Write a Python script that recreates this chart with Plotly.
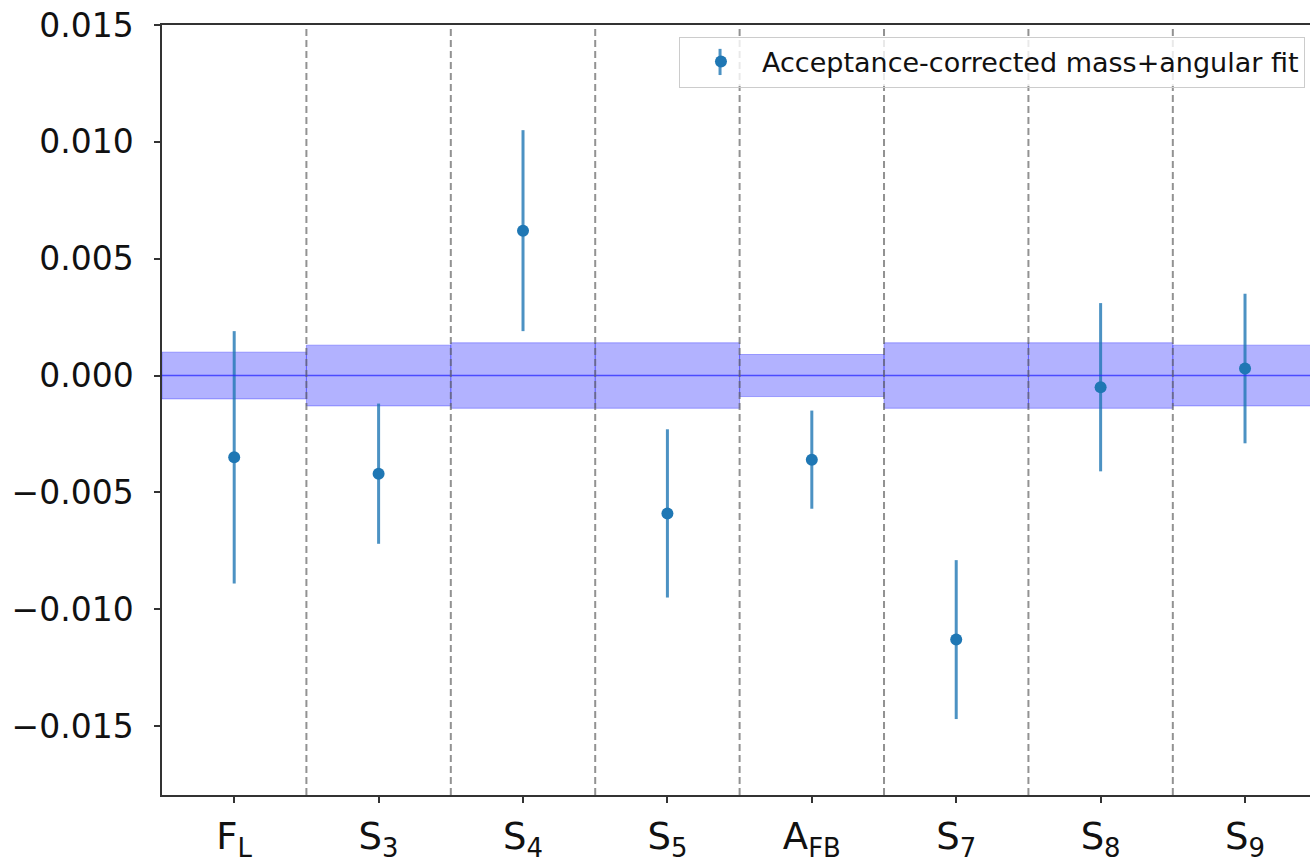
import plotly.graph_objects as go

# Observables and fitted values
observables = ["F<sub>L</sub>", "S<sub>3</sub>", "S<sub>4</sub>", "S<sub>5</sub>",
               "A<sub>FB</sub>", "S<sub>7</sub>", "S<sub>8</sub>", "S<sub>9</sub>"]
fit_values = [-0.0035, -0.0042, 0.0062, -0.0059, -0.0036, -0.0113, -0.0005, 0.0003]
fit_errors = [0.0054, 0.0030, 0.0043, 0.0036, 0.0021, 0.0034, 0.0036, 0.0032]
# Half-widths of the expected band around zero, per observable
band_halfwidths = [0.0010, 0.0013, 0.0014, 0.0014, 0.0009, 0.0014, 0.0014, 0.0013]

FONT = "DejaVu Sans"
TAB_BLUE = "#1f77b4"
ERR_BLUE = "rgba(31,119,180,0.8)"

fig = go.Figure()

positions = list(range(len(observables)))

# Shaded band for each observable, spanning its whole column
for i, hw in zip(positions, band_halfwidths):
    fig.add_trace(go.Scatter(
        x=[i - 0.5, i + 0.5, i + 0.5, i - 0.5, i - 0.5],
        y=[-hw, -hw, hw, hw, -hw],
        mode="lines",
        fill="toself",
        fillcolor="rgba(0,0,255,0.3)",
        line=dict(color="rgba(0,0,255,0.3)", width=1),
        hoverinfo="skip",
        showlegend=False,
    ))

# Zero reference line
fig.add_shape(type="line", xref="x", yref="y", x0=-0.5, x1=len(observables) - 0.5,
              y0=0, y1=0, line=dict(color="rgba(40,40,255,0.75)", width=1.5), layer="above")

# Column separators
for i in positions[:-1]:
    fig.add_shape(type="line", xref="x", yref="paper", x0=i + 0.5, x1=i + 0.5,
                  y0=0, y1=1, line=dict(color="rgba(100,100,100,0.7)", width=2, dash="7px,4px"),
                  layer="above")

# Fit results with uncertainties
fig.add_trace(go.Scatter(
    x=positions,
    y=fit_values,
    mode="markers",
    marker=dict(color=TAB_BLUE, size=12),
    error_y=dict(type="data", array=fit_errors, visible=True, thickness=3, width=0,
                 color=ERR_BLUE),
    name="Acceptance-corrected mass+angular fit",
    showlegend=True,
))

# Semi-opaque legend backdrop, then the error-bar stroke through the legend marker
fig.add_shape(type="rect", xref="paper", yref="paper", x0=0.4512, x1=0.9948,
              y0=0.9208, y1=0.9844, fillcolor="rgba(255,255,255,0.8)",
              line=dict(width=0), layer="above")
fig.add_shape(type="line", xref="paper", yref="paper", x0=0.4861, x1=0.4861,
              y0=0.935, y1=0.969, line=dict(color=ERR_BLUE, width=3), layer="above")

fig.update_layout(
    width=1310,
    height=863,
    margin=dict(l=162, r=0, t=25, b=68),
    paper_bgcolor="white",
    plot_bgcolor="white",
    font=dict(family=FONT, color="#111111", size=31),
    legend=dict(
        x=0.9956, y=0.985, xanchor="right", yanchor="top",
        bgcolor="rgba(255,255,255,0)", bordercolor="#cccccc", borderwidth=1,
        font=dict(family=FONT, size=27, color="#111111"),
        itemwidth=72,
    ),
    showlegend=True,
)

fig.update_xaxes(
    range=[-0.5, 7.45],
    tickmode="array",
    tickvals=positions,
    ticktext=observables,
    showgrid=False,
    zeroline=False,
    showline=True,
    linecolor="#333333",
    linewidth=1.5,
    mirror=True,
    ticks="outside",
    ticklen=6,
    tickwidth=1.5,
    tickcolor="#333333",
    ticklabelstandoff=2,
    automargin=False,
    tickfont=dict(family=FONT, size=37, color="#111111"),
)

fig.update_yaxes(
    range=[-0.01795, 0.015],
    tickmode="array",
    tickvals=[-0.015, -0.010, -0.005, 0.0, 0.005, 0.010, 0.015],
    ticktext=["\u22120.015", "\u22120.010", "\u22120.005", "0.000", "0.005", "0.010", "0.015"],
    showgrid=False,
    zeroline=False,
    showline=True,
    linecolor="#333333",
    linewidth=1.5,
    mirror=False,
    ticks="outside",
    ticklen=6,
    tickwidth=1.5,
    tickcolor="#333333",
    ticklabelstandoff=14,
    automargin=False,
    tickfont=dict(family=FONT, size=33, color="#111111"),
)

fig.write_html("out.html")
